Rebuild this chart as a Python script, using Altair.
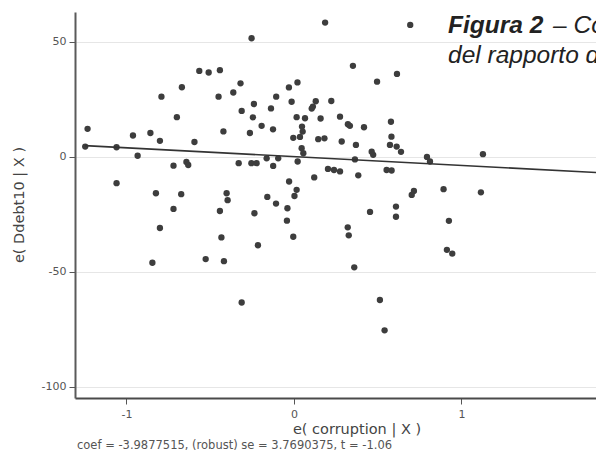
import altair as alt
import pandas as pd

# residual of corruption (x) and residual of Ddebt10 (y)
ex = [-0.253, -0.565, -0.509, -0.442, -0.669, -0.791, -0.450, -0.362, -0.319, -0.312,
      -0.239, -0.245, -0.699, -1.232, -0.961, -0.857, -0.800, -0.594, -0.421, -0.263,
      -1.246, -1.059, -0.933, -0.030, 0.021, -0.106, -0.014, -0.137, 0.016, -0.193,
      -0.125, -0.004, -0.719, -0.642, -0.631, -0.330, -0.254, -0.223, -0.163, -0.124,
      -0.094, 0.022, -1.059, -0.824, -0.673, -0.402, -0.396, -0.719, -0.442, -0.236,
      -0.159, -0.107, -0.039, -0.029, 0.016, 0.003, -0.042, -0.800, -0.433, -0.215,
      -0.004, -0.845, -0.527, -0.418, -0.312, 0.186, 0.694, 0.352, 0.496, 0.615,
      0.130, 0.113, 0.106, 0.223, 0.066, 0.159, 0.275, 0.048, 0.052, 0.322,
      0.334, 0.418, 0.579, 0.036, 0.145, 0.182, 0.285, 0.370, 0.582, 0.573,
      0.613, 0.639, 0.046, 0.464, 0.473, 0.794, 0.812, 0.056, 0.203, 0.239,
      0.275, 0.121, 0.384, 0.553, 0.583, 0.364, 0.454, 0.609, 0.609, 0.716,
      0.703, 0.321, 0.327, 0.360, 0.513, 0.541, 0.913, 0.945, 0.925, 0.893,
      1.116, 1.128, 1.837]
ey = [51.6, 37.4, 36.7, 37.7, 30.3, 26.2, 26.2, 28.0, 32.0, 20.0,
      23.0, 17.2, 17.3, 12.2, 9.3, 10.4, 7.0, 6.5, 11.1, 10.4,
      4.5, 4.2, 0.5, 30.2, 32.4, 26.2, 24.0, 21.1, 17.3, 13.5,
      12.0, 8.3, -3.8, -2.2, -3.5, -2.7, -2.7, -2.7, -0.6, -3.9,
      -0.6, -2.0, -11.4, -15.8, -16.2, -15.8, -18.8, -22.6, -23.5, -24.5,
      -17.4, -20.3, -22.3, -10.7, -14.3, -17.0, -27.7, -30.9, -35.0, -38.4,
      -34.7, -46.0, -44.4, -45.3, -63.3, 58.4, 57.4, 39.6, 32.7, 36.1,
      24.2, 21.9, 21.0, 24.3, 16.8, 16.7, 17.5, 13.2, 11.0, 14.2,
      13.5, 12.9, 15.3, 8.7, 7.7, 8.1, 6.7, 5.2, 8.8, 5.2,
      4.5, 2.2, 3.8, 2.3, 0.9, 0.0, -2.0, 1.6, -5.2, -5.7,
      -6.3, -8.9, -8.0, -5.7, -5.9, -1.1, -23.9, -21.6, -26.0, -14.8,
      -16.5, -30.6, -34.1, -48.0, -62.2, -75.4, -40.4, -42.0, -27.8, -14.0,
      -15.4, 1.2, 1.6]

# fitted line endpoints (slope = coef)
fit_x = [-1.248, 1.837]
fit_y = [4.9, -6.9]

x_ticks = [-1, 0, 1]
y_ticks = [-100, -50, 0, 50]

title_bold = "Figura 2"
title_rest = "–  Co"
title_line2 = "del rapporto de"
x_title = "e( corruption | X )"
y_title = "e( Ddebt10 | X )"
note = "coef = -3.9877515, (robust) se = 3.7690375, t = -1.06"

pts = pd.DataFrame({"x": ex, "y": ey})
fit = pd.DataFrame({"x": fit_x, "y": fit_y})

xs = alt.Scale(domain=[-1.307, 1.803], nice=False, zero=False)
ys = alt.Scale(domain=[-104.8, 63], nice=False, zero=False)

FONT = "DejaVu Sans"

xaxis = alt.Axis(values=x_ticks, format="d", title=None, grid=False, domainColor="#4a4a4a",
                 domainWidth=2, tickColor="#555555", tickSize=6, tickWidth=1, labelFont=FONT,
                 labelFontSize=11, labelColor="#555555", labelPadding=4,
                 labelExpr="replace(datum.label, '\u2212', '-')")
yaxis = alt.Axis(values=y_ticks, format="d", title=None, grid=True, gridColor="#e6e6e6",
                 gridWidth=1, domainColor="#5a5a5a", domainWidth=2, tickColor="#555555",
                 tickSize=6, tickWidth=1, labelFont=FONT, labelFontSize=11,
                 labelColor="#555555", labelPadding=3,
                 labelExpr="replace(datum.label, '\u2212', '-')")

points = alt.Chart(pts).mark_circle(size=40, color="#3d3d3d", opacity=1).encode(
    x=alt.X("x:Q", scale=xs, axis=xaxis),
    y=alt.Y("y:Q", scale=ys, axis=yaxis),
)

line = alt.Chart(fit).mark_line(color="#333333", strokeWidth=1.6, clip=False).encode(
    x=alt.X("x:Q", scale=xs),
    y=alt.Y("y:Q", scale=ys),
)

def label(txt, px, py, **kw):
    return alt.Chart(pd.DataFrame({"t": [txt]})).mark_text(**kw).encode(
        text="t:N", x=alt.value(px), y=alt.value(py))

t1 = label(title_bold, 373, 21, font="Liberation Sans", fontSize=24.5, fontStyle="italic",
           fontWeight="bold", color="#222222", align="left", baseline="alphabetic")
t2 = label(title_rest, 478, 21, font="Liberation Sans", fontSize=24.5, fontStyle="italic",
           color="#222222", align="left", baseline="alphabetic")
t3 = label(title_line2, 373, 51, font="Liberation Sans", fontSize=24.5, fontStyle="italic",
           color="#222222", align="left", baseline="alphabetic")
xt = label(x_title, 282, 418, font=FONT, fontSize=14.5, color="#444444", align="center",
           baseline="middle")
yt = label(y_title, -55, 193, font=FONT, fontSize=14.5, color="#444444", align="center",
           baseline="middle", angle=270)
nt = label(note, 2, 434, font=FONT, fontSize=11.5, color="#555555", align="left",
           baseline="middle")

chart = alt.layer(points, line, t1, t2, t3, xt, yt, nt).properties(
    width=521, height=386,
    padding={"left": 67, "top": 4, "right": 0, "bottom": 55},
    autosize=alt.AutoSizeParams(type="none"),
    background="white",
).configure_view(stroke=None)

chart.save("out.html", embed_options={"renderer": "svg", "actions": False})
